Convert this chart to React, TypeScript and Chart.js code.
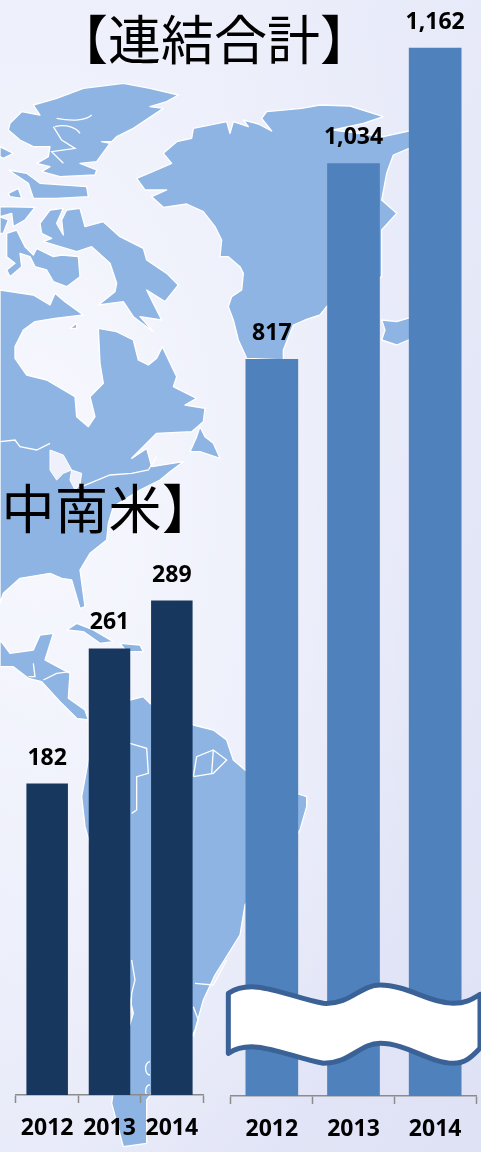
import React, { useEffect, useRef } from "react";
import { Chart, registerables } from "chart.js";

Chart.register(...registerables);

const years = ["2012", "2013", "2014"];
const latinAmericaValues = [182, 261, 289];
const consolidatedValues = [817, 1034, 1162];

const titleMain = "【連結合計】";
const titleRegion = "【中南米】";

const FONT = "'Open Sans', Lato, sans-serif";
const JP = "'Noto Sans CJK JP', sans-serif";

// Decorative backdrop (not data): the world-map silhouette, in 1/3 px units.
const landPaths = [
  // mainland North America
  "M0 870 L100 885 150 915 165 880 195 905 250 945 165 955 105 965 70 990 45 1040 45 1075 80 1125 140 1140 225 1190 230 1250 265 1280 285 1250 270 1190 310 1150 300 1090 295 985 350 995 400 1020 415 1080 445 1095 470 1075 487 1040 530 1130 520 1160 590 1195 555 1215 615 1225 610 1265 575 1295 470 1300 395 1375 440 1345 455 1400 550 1385 510 1415 480 1440 420 1470 340 1520 325 1570 320 1620 270 1660 240 1710 255 1820 240 1825 215 1740 185 1735 150 1720 60 1735 10 1780 0 1810 Z",
  // Newfoundland
  "M600 1280 L615 1310 640 1330 660 1375 600 1355 570 1355 590 1310 Z",
  // Ellesmere and neighbours
  "M100 315 L170 295 250 265 370 250 450 265 535 285 500 305 450 320 490 325 400 385 350 410 335 425 305 425 330 430 290 485 240 490 290 510 285 525 180 530 125 515 150 500 110 490 145 470 150 440 100 440 60 420 25 390 30 370 65 335 120 345 Z",
  "M25 510 L80 520 120 550 260 560 265 590 170 595 100 595 85 550 Z",
  "M25 580 L55 565 65 595 30 590 Z",
  "M0 440 L40 460 10 475 0 470 Z",
  "M0 620 L105 622 75 660 40 680 35 640 0 650 Z",
  "M0 650 L25 660 10 700 0 700 Z",
  // Victoria / Banks area
  "M20 700 L50 690 75 740 100 765 110 745 160 770 185 765 235 770 240 830 200 860 160 845 140 810 105 800 90 770 60 760 65 800 30 830 20 810 45 790 20 770 Z",
  // Baffin
  "M120 670 L150 630 190 625 170 670 190 705 185 660 200 630 240 625 255 680 310 665 360 710 430 745 440 780 500 820 535 855 495 905 440 870 460 910 485 960 420 950 460 995 400 950 370 905 295 915 345 875 350 850 330 790 275 740 230 755 130 725 155 715 125 700 Z",
  "M210 985 L230 970 230 985 Z",
  // Greenland
  "M740 1075 L715 1020 700 960 685 920 695 890 725 870 730 820 720 800 685 770 660 770 665 720 645 680 610 635 560 612 490 622 455 590 500 570 435 570 410 535 470 510 515 490 490 460 530 425 575 415 580 385 680 365 690 400 700 365 745 380 730 360 775 372 815 393 785 355 800 335 905 325 960 315 1050 318 1150 350 1090 370 1000 390 1150 410 1240 390 1240 440 1180 465 1160 520 1145 600 1190 640 1145 690 1145 800 1145 830 1000 900 980 920 960 945 915 960 880 975 850 1050 850 1080 Z",
  // Iceland
  "M1145 960 L1190 965 1240 950 1250 1010 1190 1035 1145 1020 1155 990 Z",
  // Bahamas / Cuba
  "M200 1890 L230 1870 280 1890 340 1925 300 1930 250 1895 Z",
  "M360 1930 L420 1935 430 1955 380 1955 Z",
  // Mexico and Central America
  "M0 1920 L30 1960 100 1950 120 1905 160 1900 135 1980 210 2020 205 2095 255 2130 265 2160 230 2155 180 2105 125 2045 85 2035 40 2000 0 2000 Z",
  // South America
  "M265 2130 L340 2120 390 2100 430 2090 450 2110 580 2175 640 2190 680 2220 700 2280 735 2310 800 2350 920 2390 920 2420 900 2490 840 2580 735 2715 720 2805 645 2925 610 3000 585 3090 540 3170 470 3260 440 3300 440 3430 370 3440 335 3310 350 3200 400 3040 340 2780 255 2480 245 2390 265 2280 Z",
];

const lakePaths = [
  "M150 1350 L190 1365 215 1410 190 1420 170 1440 150 1410 Z",
  "M215 1410 L245 1420 240 1455 225 1470 210 1440 Z",
];

const borderLines = [
  "M170 355 C 220 365 260 360 275 345",
  "M165 380 C 200 370 230 385 240 400",
  "M160 380 L185 420 225 445 155 455 190 490",
  "M0 1325 L45 1320 60 1340 110 1350 150 1330",
  "M245 1460 L330 1425 395 1420 445 1410 470 1370",
  "M390 2230 L440 2245 445 2320 410 2330 410 2430 395 2440",
  "M580 2330 L590 2270 640 2250 680 2280 640 2320 580 2330",
  "M640 2250 L635 2320",
  "M395 2880 L405 2940 395 2980 392 3040",
  "M585 2950 L640 2955 680 2880",
  "M130 2040 L170 2020 210 2015",
  "M100 1990 L105 2030 85 2030",
  "M450 3185 A 12 18 0 0 0 450 3225",
  "M450 3255 A 12 18 0 0 0 440 3285",
  "M580 3020 L595 3060 580 3110",
];

const breakPath =
  "M685 2980 C 760 2930, 860 2990, 970 3010 C 1050 3015, 1080 2955, 1140 2955 C 1220 2955, 1290 3010, 1360 3010 C 1400 3010, 1420 2995, 1440 2983 L 1440 3145 C 1420 3165, 1400 3190, 1360 3190 C 1290 3190, 1220 3130, 1140 3130 C 1080 3130, 1050 3190, 970 3190 C 860 3170, 760 3110, 685 3160 Z";

const valueLabels = {
  id: "valueLabels",
  afterDatasetsDraw(chart: any) {
    const { ctx } = chart;
    const meta = chart.getDatasetMeta(0);
    ctx.save();
    ctx.fillStyle = "#000000";
    ctx.font = `bold 23px ${FONT}`;
    ctx.textAlign = "center";
    ctx.textBaseline = "alphabetic";
    meta.data.forEach((bar: any, i: number) => {
      const v = chart.data.datasets[0].data[i];
      ctx.fillText(Number(v).toLocaleString("en-US"), bar.x, bar.y - 19);
    });
    ctx.restore();
  },
};

function makeChart(
  canvas: HTMLCanvasElement,
  values: number[],
  color: string,
  yMax: number,
  barPct: number,
  padL: number,
  padR: number,
  axisHeight: number
) {
  return new Chart(canvas, {
    type: "bar",
    data: {
      labels: years,
      datasets: [
        {
          data: values,
          backgroundColor: color,
          barPercentage: barPct,
          categoryPercentage: 1,
        },
      ],
    },
    plugins: [valueLabels],
    options: {
      responsive: false,
      animation: false,
      devicePixelRatio: 1,
      layout: { padding: { left: padL, right: padR, top: 0, bottom: 0 } },
      plugins: {
        legend: { display: false },
        title: { display: false },
        tooltip: { enabled: false },
      },
      scales: {
        y: { display: false, min: 0, max: yMax },
        x: {
          afterFit(scale: any) {
            scale.height = axisHeight;
          },
          border: { color: "#8c8c8c", width: 1.5 },
          grid: {
            offset: true,
            drawOnChartArea: false,
            drawTicks: true,
            tickLength: 8,
            tickWidth: 1.5,
            tickColor: "#8c8c8c",
          },
          ticks: {
            color: "#000000",
            padding: 12,
            maxRotation: 0,
            autoSkip: false,
            font: { family: FONT, weight: "bold", size: 23 },
          },
        },
      },
    } as any,
  });
}

export default function App() {
  const leftRef = useRef<HTMLCanvasElement>(null);
  const rightRef = useRef<HTMLCanvasElement>(null);

  useEffect(() => {
    document.body.style.margin = "0";
    const left = makeChart(leftRef.current!, latinAmericaValues, "#17375e", 640, 0.666, 16, 22, 57);
    const right = makeChart(rightRef.current!, consolidatedValues, "#4f81bd", 1215, 0.645, 6, 5, 56);
    return () => {
      left.destroy();
      right.destroy();
    };
  }, []);

  const titleStyle: React.CSSProperties = {
    position: "absolute",
    fontFamily: JP,
    color: "#000",
    whiteSpace: "nowrap",
    lineHeight: 1,
  };

  return (
    <div
      style={{
        position: "fixed",
        left: 0,
        top: 0,
        width: 481,
        height: 1152,
        overflow: "hidden",
        background:
          "radial-gradient(ellipse 420px 800px at 40px 480px, #f8f9fe 0%, #eef0fb 55%, rgba(238,240,251,0) 100%), linear-gradient(120deg, #eef0fb 0%, #e6e9f8 50%, #dfe2f5 100%)",
      }}
    >
      <svg width={481} height={1152} style={{ position: "absolute", left: 0, top: 0 }}>
        <g transform="scale(0.33333)">
          {landPaths.map((d, i) => (
            <path key={i} d={d} fill="#8eb4e3" stroke="#ffffff" strokeWidth={4} strokeLinejoin="round" />
          ))}
          {lakePaths.map((d, i) => (
            <path key={i} d={d} fill="#eef0fb" stroke="#ffffff" strokeWidth={3} />
          ))}
          {borderLines.map((d, i) => (
            <path key={i} d={d} fill="none" stroke="#ffffff" strokeWidth={4} />
          ))}
        </g>
      </svg>
      <div style={{ ...titleStyle, left: 55, top: 11, fontSize: 53 }}>{titleMain}</div>
      <div style={{ ...titleStyle, left: -52, top: 480, fontSize: 53, letterSpacing: 0.5 }}>{titleRegion}</div>
      <canvas
        ref={leftRef}
        width={225}
        height={1152}
        style={{ position: "absolute", left: 0, top: 0 }}
      />
      <canvas
        ref={rightRef}
        width={256}
        height={1152}
        style={{ position: "absolute", left: 225, top: 0 }}
      />
      <svg width={481} height={1152} style={{ position: "absolute", left: 0, top: 0 }}>
        <g transform="scale(0.33333)">
          <path d={breakPath} fill="#ffffff" stroke="#3b6296" strokeWidth={15} strokeLinejoin="round" />
        </g>
      </svg>
    </div>
  );
}
